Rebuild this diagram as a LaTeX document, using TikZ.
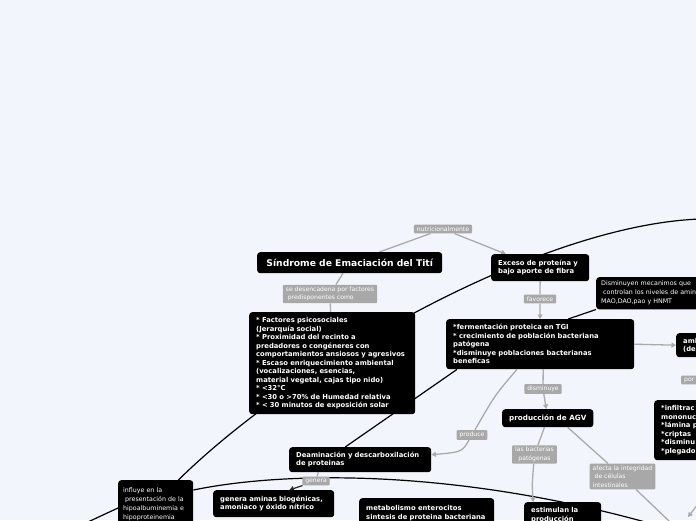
\documentclass[tikz,border=0pt]{standalone}
\usepackage{fontspec}
\setmainfont{DejaVu Sans}
\usetikzlibrary{arrows.meta}
\definecolor{bg}{HTML}{F3F5FC}
\definecolor{lbl}{HTML}{A8A8A8}
\definecolor{lnk}{HTML}{ABABAB}
\pgfdeclarelayer{back}
\pgfdeclarelayer{lines}
\pgfsetlayers{back,lines,main}
\tikzset{
  bbox/.style={anchor=north west, fill=black, text=white, rounded corners=3pt,
    inner xsep=7pt, inner ysep=4pt, align=left,
    font=\fontsize{6.8}{8.5}\selectfont\bfseries},
  rbox/.style={bbox, inner xsep=5pt, font=\fontsize{6.3}{9}\selectfont},
  lab/.style={fill=lbl, text=white, rounded corners=1pt, inner xsep=3pt,
    inner ysep=2pt, align=left, font=\fontsize{6.1}{8.5}\selectfont},
  glink/.style={draw=lnk, line width=1.3pt},
  garrow/.style={glink, -{Triangle[length=4.5pt,width=5pt]}},
  blink/.style={draw=black, line width=1.2pt},
  darrow/.style={draw=black!85, line width=1.2pt, -{Triangle[length=4.5pt,width=5pt]}}
}
\begin{document}
\begin{tikzpicture}[x=1pt,y=-1pt]
\useasboundingbox (0,0) rectangle (696,520);
\begin{pgfonlayer}{back}
  \fill[bg] (0,0) rectangle (696,520);
\end{pgfonlayer}

% boxes
\node[bbox, font=\fontsize{9.2}{10}\selectfont\bfseries, minimum width=185pt,
  minimum height=21pt, align=center] (sind) at (257,252) {Síndrome de Emaciación del Tití};
\node[bbox, text width=84pt, minimum height=27pt] (exceso) at (491,254)
  {Exceso de proteína y\\bajo aporte de fibra};
\node[rbox, text width=130pt, minimum height=31pt] (dismi) at (596,277)
  {Disminuyen mecanimos que\\\hspace*{2pt}controlan los niveles de aminas\\MAO,DAO,pao y HNMT};
\node[bbox, text width=152pt, minimum height=102pt] (fact) at (249,312)
  {{*} Factores psicosociales\\(Jerarquía social)\\{*} Proximidad del recinto a\\predadores o congéneres con\\comportamientos ansiosos y agresivos\\{*} Escaso enriquecimiento ambiental\\(vocalizaciones, esencias,\\material vegetal, cajas tipo nido)\\{*} <32°C\\{*} <30 o >70\% de Humedad relativa\\{*} < 30 minutos de exposición solar};
\node[bbox, text width=174pt, minimum height=50pt] (ferm) at (446,319)
  {{*}fermentación proteica en TGI\\{*} crecimiento de población bacteriana\\patógena\\{*}disminuye poblaciones bacterianas\\beneficas};
\node[bbox, text width=40pt, minimum height=24pt] (amb) at (676,333) {amb\\(de};
\node[bbox, font=\fontsize{7.2}{8.5}\selectfont\bfseries, minimum width=88pt,
  minimum height=18pt, align=center] (agv) at (502,409) {producción de AGV};
\node[bbox, text width=60pt, minimum height=60pt] (infil) at (654,400)
  {{*}infiltrac\\mononuc\\{*}lámina p\\{*}criptas\\{*}disminu\\{*}plegado};
\node[bbox, text width=128pt, minimum height=25pt] (deam) at (289,447)
  {Deaminación y descarboxilación\\de proteinas};
\node[rbox, text width=65pt, minimum height=48pt] (infl) at (118,480)
  {influye en la\\\hspace*{2pt}presentación de la\\hipoalbuminemia e\\hipoproteinemia};
\node[bbox, text width=107pt, minimum height=27pt] (genami) at (213,490)
  {genera aminas biogénicas,\\amoniaco y óxido nítrico};
\node[bbox, text width=121pt, minimum height=30pt] (metab) at (359,498)
  {metabolismo enterocitos\\sintesis de proteina bacteriana};
\node[bbox, text width=63pt, minimum height=26pt] (estim) at (524,502)
  {estimulan la\\producción};

% labels
\node[lab] (nutri) at (443,229) {nutricionalmente};
\node[lab] (desenc) at (330,294) {se desencadena por factores\\\hspace*{2pt}predisponentes como};
\node[lab] (fav) at (540,299) {favorece};
\node[lab, anchor=west] (por) at (681,380) {por};
\node[lab] (dism) at (543,389) {disminuye};
\node[lab] (prod) at (472,435) {produce};
\node[lab] (gen) at (316,481) {genera};
\node[lab, align=center] (bact) at (534.5,454.5) {las bacterias\\patógenas};
\node[lab] (afec) at (622.5,476.5) {afecta la integridad\\\hspace*{2pt}de células\\intestinales};

% free ends
\coordinate (cA) at (720,219);
\coordinate (cB) at (720,545);
\coordinate (cC) at (60,535);
\coordinate (cD) at (692,543);
\coordinate (cE) at (712,486);
\coordinate (cF) at (688,517);

\begin{pgfonlayer}{lines}
  \draw[glink] (sind) -- (nutri);
  \draw[garrow] (nutri) -- (exceso);
  \draw[glink] (sind) -- (desenc);
  \draw[glink] (desenc) -- (fact);
  \draw[glink] (exceso) -- (fav);
  \draw[garrow] (fav) -- (ferm);
  \draw[blink] (dismi.south west) -- ([xshift=28pt]ferm.north);
  \draw[garrow] (ferm.east) -- (amb.west);
  \draw[glink] ([xshift=3pt]ferm.south) -- (dism);
  \draw[garrow] (dism) -- (agv);
  \draw[glink] ([xshift=71pt]ferm.south west) .. controls (495,395) .. (prod);
  \draw[garrow] (prod) .. controls (462,452) .. ([yshift=5pt]deam.east);
  \draw[blink] ([xshift=11pt]ferm.south west) -- ([xshift=-15pt]deam.north);
  \draw[blink] (cA) .. controls (560,213) and (300,360) .. ([xshift=-15pt]infl.north east);
  \draw[blink] ([yshift=-10pt]infl.north east) .. controls (300,468) and (500,470) .. (cB);
  \draw[blink] ([yshift=-28pt]infl.north west) -- (cC);
  \draw[glink] ([xshift=-42pt]deam.south) -- (gen);
  \draw[darrow] (gen) -- ([xshift=-45pt]genami.north east);
  \draw[glink] (agv) -- (bact);
  \draw[garrow] (bact) .. controls (532,485) .. ([xshift=-29.5pt]estim.north);
  \draw[glink] ([xshift=20pt]agv.south) -- (afec);
  \draw[glink] (afec) -- (cD);
  \draw[garrow] (cE) -- (cF);
\end{pgfonlayer}
\end{tikzpicture}
\end{document}
